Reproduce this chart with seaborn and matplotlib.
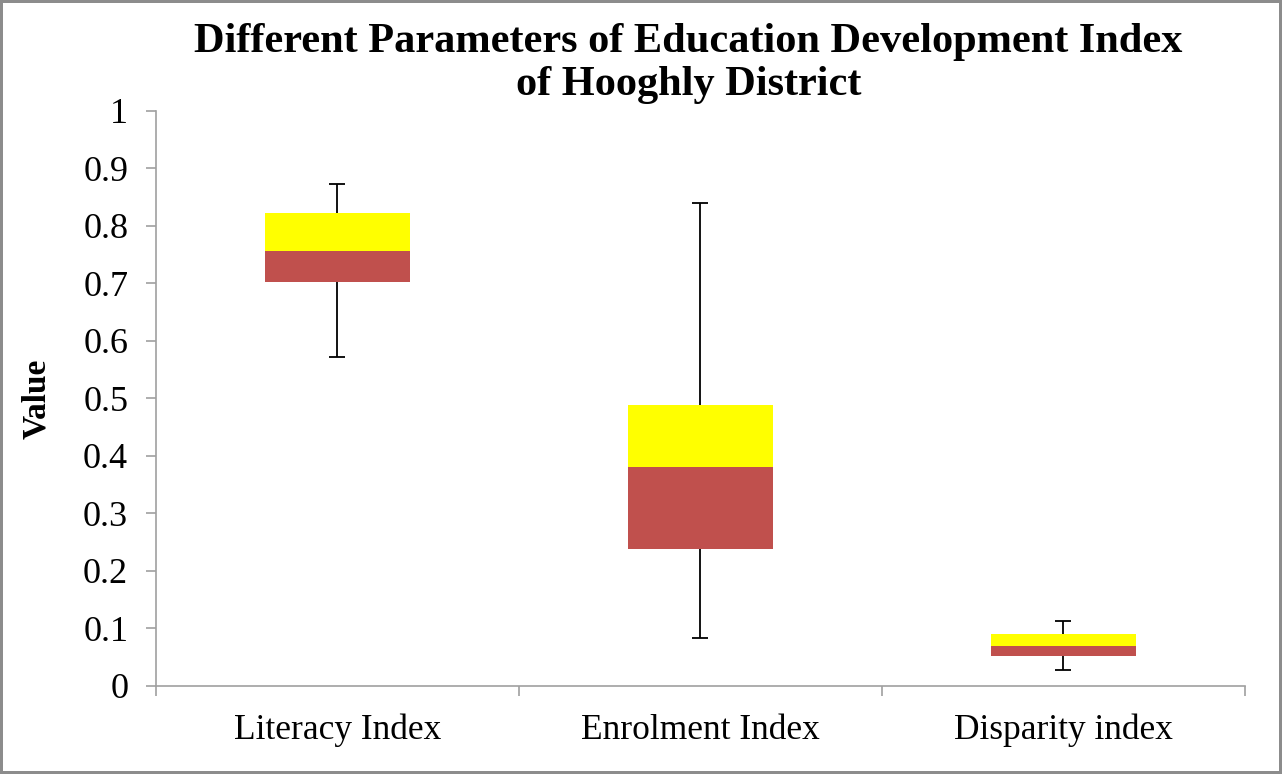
import numpy as np
import pandas as pd
import matplotlib
matplotlib.use("Agg")
import matplotlib.pyplot as plt
import seaborn as sns

# Box-plot summary values
categories = ["Literacy Index", "Enrolment Index", "Disparity index"]
minimum = [0.573, 0.083, 0.027]
q1 = [0.703, 0.239, 0.052]
median = [0.756, 0.381, 0.070]
q3 = [0.823, 0.488, 0.090]
maximum = [0.873, 0.840, 0.113]
y_ticks = np.round(np.arange(0, 1.01, 0.1), 1)

sns.set_style("white")
plt.rcParams["font.family"] = ["Liberation Serif", "DejaVu Serif"]
plt.rcParams["text.color"] = "black"
plt.rcParams["axes.labelcolor"] = "black"
plt.rcParams["xtick.labelcolor"] = "black"
plt.rcParams["ytick.labelcolor"] = "black"

df = pd.DataFrame({
    "category": categories,
    "lower": np.array(median) - np.array(q1),
    "upper": np.array(q3) - np.array(median),
})

fig = plt.figure(figsize=(12.82, 7.74), dpi=100)
ax = fig.add_axes([0.1217, 0.1137, 0.8493, 0.7429])

# whiskers first, boxes drawn over them
pos = np.arange(len(categories))
ax.errorbar(pos, median, yerr=[np.array(median) - np.array(minimum), np.array(maximum) - np.array(median)],
            fmt="none", ecolor="black", elinewidth=1.3, capsize=6, capthick=1.3, zorder=2)

# box = two stacked bars: Q1->median (red), median->Q3 (yellow)
sns.barplot(data=df, x="category", y="lower", bottom=q1, color="#C0504D", saturation=1,
            width=0.4, errorbar=None, linewidth=0, zorder=3, ax=ax)
sns.barplot(data=df, x="category", y="upper", bottom=median, color="#FFFF00", saturation=1,
            width=0.4, errorbar=None, linewidth=0, zorder=3, ax=ax)

ax.set_xlim(-0.5, len(categories) - 0.5)
ax.set_ylim(0, 1)
ax.set_yticks(y_ticks)
ax.set_yticklabels([f"{v:g}" for v in y_ticks])
ax.set_xticks(pos)
ax.set_xticklabels(categories)
ax.set_xticks(np.arange(-0.5, len(categories)), minor=True)

gray = "#A0A0A0"
for side in ["top", "right"]:
    ax.spines[side].set_visible(False)
for side in ["left", "bottom"]:
    ax.spines[side].set_color(gray)
    ax.spines[side].set_linewidth(1.2)

ax.tick_params(axis="y", left=True, length=7, width=1.2, color=gray, labelsize=26, pad=13)
ax.tick_params(axis="x", which="major", length=0, labelsize=25.5, pad=20)
ax.tick_params(axis="x", which="minor", bottom=True, length=7, width=1.2, color=gray)

ax.set_xlabel("")
ax.set_ylabel("Value", fontsize=24, fontweight="bold")
ax.yaxis.set_label_coords(-0.095, 0.5)

fig.text(0.537, 0.918, "Different Parameters of Education Development Index\nof Hooghly District",
         ha="center", va="center", fontsize=30.5, fontweight="bold", linespacing=1.15)

fig.patch.set_edgecolor("#8C8C8C")
fig.patch.set_linewidth(3)
fig.savefig("out.png", dpi=100, facecolor="white", edgecolor=fig.patch.get_edgecolor())
